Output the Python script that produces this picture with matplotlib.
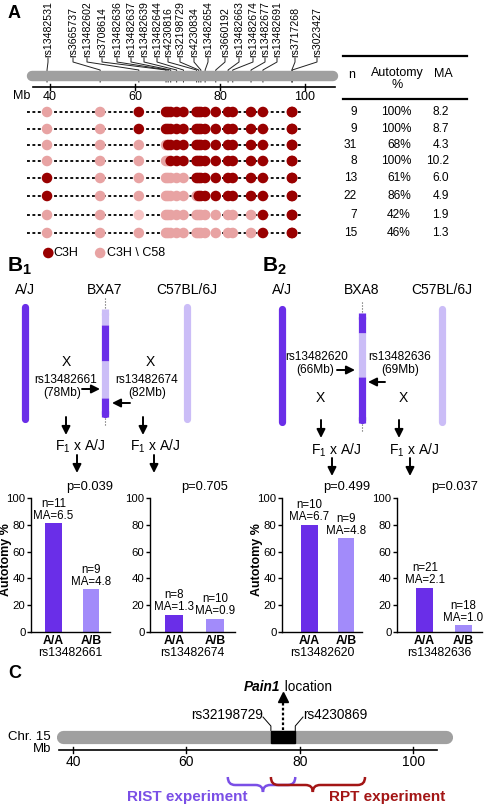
import numpy as np
import matplotlib
matplotlib.use("Agg")
import matplotlib.pyplot as plt
from matplotlib.path import Path
from matplotlib.patches import PathPatch, Rectangle

plt.rcParams['font.family'] = ['Liberation Sans', 'DejaVu Sans']
plt.rcParams['mathtext.fontset'] = 'custom'
plt.rcParams['mathtext.rm'] = 'Liberation Sans'
plt.rcParams['mathtext.bf'] = 'Liberation Sans:bold'

# ---- data ----
marker_names = ['rs13482531', 'rs3665737', 'rs13482602', 'rs3708614', 'rs13482636',
                'rs13482637', 'rs13482639', 'rs13482644', 'rs4230816', 'rs32198729',
                'rs4230834', 'rs13482654', 'rs3660192', 'rs13482663', 'rs13482674',
                'rs13482677', 'rs13482691', 'rs3717268', 'rs3023427']
marker_mb = [39.3, 51.8, 60.9, 67.3, 67.8, 68.4, 69.8, 71.4, 74.5, 75.0,
             75.5, 76.5, 79.0, 81.9, 83.0, 87.3, 90.1, 96.9, 97.0]
# 1 = C3H, 0 = C3H \ C58, 2 = lighter C3H \ C58
genotypes = [
    [0, 0, 1, 1, 1, 1, 1, 1, 1, 1, 1, 1, 1, 1, 1, 1, 1, 1, 1],
    [0, 0, 1, 1, 1, 1, 1, 1, 1, 1, 1, 1, 1, 1, 1, 1, 1, 1, 1],
    [0, 0, 0, 0, 1, 1, 1, 1, 1, 1, 1, 1, 1, 1, 1, 1, 1, 1, 1],
    [0, 0, 0, 0, 0, 1, 1, 1, 1, 1, 1, 1, 1, 1, 1, 1, 1, 1, 1],
    [1, 0, 0, 0, 0, 0, 0, 0, 1, 1, 1, 1, 1, 1, 1, 1, 1, 1, 1],
    [1, 0, 0, 0, 0, 0, 0, 0, 0, 1, 1, 1, 1, 1, 1, 1, 1, 1, 1],
    [0, 0, 2, 0, 0, 0, 0, 0, 0, 0, 0, 0, 0, 0, 0, 0, 1, 1, 1],
    [0, 0, 0, 0, 0, 0, 0, 0, 0, 0, 0, 0, 0, 0, 0, 0, 1, 1, 1],
]
n_vals = [9, 9, 31, 8, 13, 22, 7, 15]
auto_pct = ['100%', '100%', '68%', '100%', '61%', '86%', '42%', '46%']
ma_vals = ['8.2', '8.7', '4.3', '10.2', '6.0', '4.9', '1.9', '1.3']

geno_labels = ['A/A', 'A/B']
b1_snps = ['rs13482661', 'rs13482674']
b1_auto = [[81, 32], [13, 10]]
b1_n = [[11, 9], [8, 10]]
b1_ma = [[6.5, 4.8], [1.3, 0.9]]
b1_p = ['0.039', '0.705']
b2_snps = ['rs13482620', 'rs13482636']
b2_auto = [[80, 70], [33, 5]]
b2_n = [[10, 9], [21, 18]]
b2_ma = [[6.7, 4.8], [2.1, 1.0]]
b2_p = ['0.499', '0.037']

mb_ticks = [40, 60, 80, 100]
pain1_box = [74.9, 79.2]

# colours
DARK_RED = '#990000'
PINK = '#E8A3A3'
PINK2 = '#F7C4C4'
GRAY = '#A0A0A0'
PURPLE = '#6A2EE8'
LPURPLE = '#A28BFA'
CHR_L = '#CBBDF7'

W, H = 485, 807
fig = plt.figure(figsize=(W / 100, H / 100), dpi=100)

ov = fig.add_axes([0, 0, 1, 1])
ov.set_xlim(0, W); ov.set_ylim(H, 0); ov.axis('off')
axA = fig.add_axes([0, 0, 1, 1])
axA.set_xlim(28.235, 142.35); axA.set_ylim(H, 0); axA.axis('off')
axC = fig.add_axes([0, 0, 1, 1])
axC.set_xlim(27.125, 112.66); axC.set_ylim(H, 0); axC.axis('off')


def xA(mb):
    return axA.transData.transform((mb, 0))[0]


# ================= panel A =================
ov.text(8, 13, 'A', fontsize=13, fontweight='bold', va='center')

axA.plot([35.8, 106.6], [76, 76], color=GRAY, lw=7.5, solid_capstyle='round', zorder=1)
axA.plot([36, 107], [87, 87], color='black', lw=1.2)
for t in mb_ticks:
    axA.plot([t, t], [84, 90], color='black', lw=1)
    axA.text(t, 97, str(t), ha='center', va='center', fontsize=9)
ov.text(30, 96, 'Mb', ha='right', va='center', fontsize=9)

label_px = [48, 73, 87, 102, 117, 131, 144, 157, 168, 180, 194, 208, 225, 239,
            253, 265, 277, 295, 317]
for name, lx, mb in zip(marker_names, label_px, marker_mb):
    mx = xA(mb)
    ov.text(lx, 57, name, rotation=90, ha='center', va='bottom', fontsize=7.6)
    ov.plot([lx, lx, mx, mx], [58, 62, 70, 82], color='#222222', lw=0.7, zorder=3)

row_y = [112, 129, 145, 161, 178, 196, 215, 233]
cmap = {0: PINK, 1: DARK_RED, 2: PINK2}
for y, g in zip(row_y, genotypes):
    axA.plot([34.6, 99.4], [y, y], color='black', lw=1.3, ls=(0, (1.6, 1.4)), zorder=1)
    g = np.array(g)
    pos = np.array(marker_mb)
    for val, z in [(0, 2), (2, 2), (1, 3)]:
        sel = g == val
        if sel.any():
            axA.scatter(pos[sel], [y] * sel.sum(), s=58, color=cmap[val],
                        edgecolors='none', zorder=z)

axA.scatter([39.6], [253], s=58, color=DARK_RED, edgecolors='none')
ov.text(53, 253, 'C3H', va='center', fontsize=9)
axA.scatter([51.8], [253], s=58, color=PINK, edgecolors='none')
ov.text(107, 253, 'C3H \\ C58', va='center', fontsize=9)

# table
ov.plot([343, 467], [56, 56], color='black', lw=1.6)
ov.plot([343, 467], [99, 99], color='black', lw=1.6)
ov.text(352, 75, 'n', ha='center', va='center', fontsize=9)
ov.text(397, 73, 'Autotomy', ha='center', va='center', fontsize=9)
ov.text(397, 85, '%', ha='center', va='center', fontsize=9)
ov.text(443, 74, 'MA', ha='center', va='center', fontsize=9)
for y, n, a, m in zip(row_y, n_vals, auto_pct, ma_vals):
    ov.text(357, y, str(n), ha='right', va='center', fontsize=8.6)
    ov.text(411, y, a, ha='right', va='center', fontsize=8.6)
    ov.text(449, y, m, ha='right', va='center', fontsize=8.6)


# ================= panel B diagrams =================
def vbar(x, y0, y1, color, cap='round'):
    if cap == 'round':
        ov.plot([x, x], [y0 + 3.5, y1 - 3.5], color=color, lw=5.2,
                solid_capstyle='round', zorder=2)
    else:
        ov.plot([x, x], [y0, y1], color=color, lw=5.2, solid_capstyle='butt', zorder=3)


def arrow(x0, y0, x1, y1):
    ov.annotate('', xy=(x1, y1), xytext=(x0, y0),
                arrowprops=dict(arrowstyle='-|>,head_length=0.5,head_width=0.25',
                                color='black', lw=1.4, shrinkA=0, shrinkB=0))


def bxa(x, top, bot, segs):
    ov.plot([x, x], [top - 11, top - 1], color='#555555', lw=0.8, ls=':')
    ov.plot([x, x], [bot + 1, bot + 9], color='#555555', lw=0.8, ls=':')
    for (y0, y1, c) in segs:
        vbar(x, y0, y1, c, cap='butt')
    c0 = segs[0][2]
    c1 = segs[-1][2]
    ov.plot([x, x], [top + 3.5, top + 6], color=c0, lw=5.2, solid_capstyle='round', zorder=3)
    ov.plot([x, x], [bot - 6, bot - 3.5], color=c1, lw=5.2, solid_capstyle='round', zorder=3)


def f1(x, y):
    ov.text(x, y, r'F$_\mathregular{1}$ x A/J', ha='center', va='center', fontsize=10)


# B1
ov.text(7, 266, r'$\mathbf{B}_\mathbf{1}$', fontsize=15, va='center')
ov.text(25, 290, 'A/J', ha='center', va='center', fontsize=10)
ov.text(105, 290, 'BXA7', ha='center', va='center', fontsize=10)
ov.text(187, 290, 'C57BL/6J', ha='center', va='center', fontsize=10)
vbar(25, 303, 422, PURPLE)
vbar(187, 303, 422, CHR_L)
bxa(105, 309, 417, [(309, 325, CHR_L), (325, 361, PURPLE), (361, 398, CHR_L), (398, 417, PURPLE)])
ov.text(66, 362, 'X', ha='center', va='center', fontsize=10)
ov.text(150, 362, 'X', ha='center', va='center', fontsize=10)
ov.text(66, 380, 'rs13482661', ha='center', va='center', fontsize=8.6)
ov.text(62, 393, '(78Mb)', ha='center', va='center', fontsize=8.6)
arrow(82, 389, 100, 389)
ov.text(147, 380, 'rs13482674', ha='center', va='center', fontsize=8.6)
ov.text(147, 393, '(82Mb)', ha='center', va='center', fontsize=8.6)
arrow(130, 403, 112, 403)
arrow(66, 417, 66, 435)
arrow(143, 417, 143, 435)
f1(80, 446)
f1(155, 446)
arrow(77, 455, 77, 473)
arrow(154, 455, 154, 473)

# B2
ov.text(262, 266, r'$\mathbf{B}_\mathbf{2}$', fontsize=15, va='center')
ov.text(282, 290, 'A/J', ha='center', va='center', fontsize=10)
ov.text(362, 290, 'BXA8', ha='center', va='center', fontsize=10)
ov.text(442, 290, 'C57BL/6J', ha='center', va='center', fontsize=10)
vbar(282, 305, 425, PURPLE)
vbar(442, 305, 425, CHR_L)
bxa(362, 313, 423, [(313, 333, PURPLE), (333, 377, CHR_L), (377, 423, PURPLE)])
ov.text(317, 357, 'rs13482620', ha='center', va='center', fontsize=8.6)
ov.text(315, 370, '(66Mb)', ha='center', va='center', fontsize=8.6)
arrow(337, 370, 355, 370)
ov.text(400, 357, 'rs13482636', ha='center', va='center', fontsize=8.6)
ov.text(400, 370, '(69Mb)', ha='center', va='center', fontsize=8.6)
arrow(385, 382, 368, 382)
ov.text(320, 398, 'X', ha='center', va='center', fontsize=10)
ov.text(403, 398, 'X', ha='center', va='center', fontsize=10)
arrow(321, 420, 321, 438)
arrow(399, 420, 399, 438)
f1(336, 450)
f1(414, 450)
arrow(332, 458, 332, 476)
arrow(410, 458, 410, 476)


# ================= bar charts =================
def bar_axes(left_px, unit_px, xmin, xmax, snp, vals, ns, mas, pval, p_x, ylabel, ylab_x):
    width = (xmax - xmin) * unit_px
    ax = fig.add_axes([left_px / W, (H - 632) / H, width / W, 134 / H])
    ax.bar([0, 1], vals, width=0.45, color=[PURPLE, LPURPLE])
    ax.set_xlim(xmin, xmax)
    ax.set_ylim(0, 100)
    ax.set_yticks([0, 20, 40, 60, 80, 100])
    ax.tick_params(axis='y', labelsize=8.2, length=3, width=1, pad=1)
    ax.set_xticks([0, 1])
    ax.set_xticklabels(geno_labels, fontweight='bold', fontsize=8.8)
    ax.tick_params(axis='x', length=0, pad=2)
    ax.set_xlabel(snp, fontsize=8.8, labelpad=0)
    for s in ['top', 'right']:
        ax.spines[s].set_visible(False)
    ax.spines['left'].set_linewidth(1)
    ax.spines['bottom'].set_linewidth(1)
    for i in range(2):
        ax.text(i, vals[i] + 1, 'n=%d\nMA=%.1f' % (ns[i], mas[i]), ha='center',
                va='bottom', fontsize=8.3, linespacing=1.0)
    ov.text(p_x, 487, 'p=' + pval, ha='center', va='center', fontsize=9.3)
    if ylabel:
        ov.text(ylab_x, 560, 'Autotomy %', rotation=90, ha='center', va='center',
                fontsize=9, fontweight='bold')
    return ax


bar_axes(31, 37.5, -0.6, 1.5, b1_snps[0], b1_auto[0], b1_n[0], b1_ma[0], b1_p[0], 90, True, 6)
bar_axes(150, 40.5, -0.6, 1.5, b1_snps[1], b1_auto[1], b1_n[1], b1_ma[1], b1_p[1], 205, False, 0)
bar_axes(282, 36.5, -0.75, 1.45, b2_snps[0], b2_auto[0], b2_n[0], b2_ma[0], b2_p[0], 347, True, 257)
bar_axes(397, 38.5, -0.72, 1.5, b2_snps[1], b2_auto[1], b2_n[1], b2_ma[1], b2_p[1], 455, False, 0)


# ================= panel C =================
ov.text(8, 674, 'C', fontsize=13, fontweight='bold', va='center')
axC.plot([38.3, 105.8], [737, 737], color=GRAY, lw=9.5, solid_capstyle='round', zorder=1)
axC.add_patch(Rectangle((pain1_box[0], 731), pain1_box[1] - pain1_box[0], 12,
                        color='black', zorder=2))
ov.text(51, 737, 'Chr. 15', ha='right', va='center', fontsize=9.5)
axC.plot([37.5, 104.2], [750, 750], color='black', lw=1.2)
for t in mb_ticks:
    axC.plot([t, t], [747, 753], color='black', lw=1)
    axC.text(t, 762, str(t), ha='center', va='center', fontsize=10)
ov.text(51, 749, 'Mb', ha='right', va='center', fontsize=9.5)

bx0 = axC.transData.transform((pain1_box[0], 0))[0]
bx1 = axC.transData.transform((pain1_box[1], 0))[0]
ov.text(263, 715, 'rs32198729', ha='right', va='center', fontsize=9.8)
ov.plot([263, bx0, bx0], [717, 726, 731], color='black', lw=0.7)
ov.text(303, 715, 'rs4230869', ha='left', va='center', fontsize=9.8)
ov.plot([303, bx1, bx1], [717, 726, 731], color='black', lw=0.7)
mid = (pain1_box[0] + pain1_box[1]) / 2
axC.plot([mid, mid], [730, 700], color='black', lw=1.6, ls=(0, (1.2, 1.0)))
axC.plot([mid], [697], marker='^', color='black', markersize=7)
ov.text(280, 687, 'Pain1', ha='right', va='center', fontsize=9.8,
        fontweight='bold', fontstyle='italic')
ov.text(281, 687, ' location', ha='left', va='center', fontsize=9.8)


def brace(ax, x0, x1, xt, ytop, ymid, ybot, color):
    d = 1.3
    verts = [(x0, ytop), (x0, ymid), (x0 + d, ymid),
             (xt - d, ymid), (xt, ymid), (xt, ybot),
             (xt, ymid), (xt + d, ymid),
             (x1 - d, ymid), (x1, ymid), (x1, ytop)]
    codes = [Path.MOVETO, Path.CURVE3, Path.CURVE3,
             Path.LINETO, Path.CURVE3, Path.CURVE3,
             Path.CURVE3, Path.CURVE3,
             Path.LINETO, Path.CURVE3, Path.CURVE3]
    ax.add_patch(PathPatch(Path(verts, codes), fill=False, edgecolor=color, lw=1.8))


brace(axC, 67.3, 79.2, 73.5, 777, 785, 792, '#7A4FE6')
brace(axC, 74.9, 91.5, 82.3, 777, 785, 792, '#A31515')
ov.text(187, 797, 'RIST experiment', ha='center', va='center', fontsize=11,
        fontweight='bold', color='#7A4FE6')
ov.text(387, 797, 'RPT experiment', ha='center', va='center', fontsize=11,
        fontweight='bold', color='#A31515')

fig.savefig('out.png', dpi=100)
